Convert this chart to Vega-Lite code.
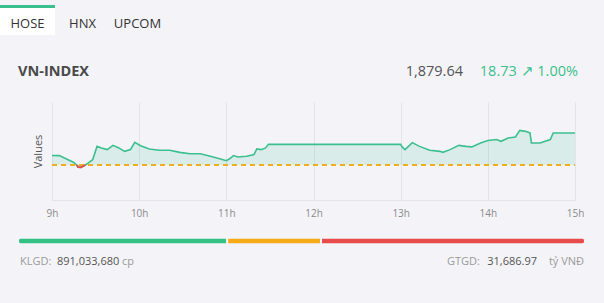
{
  "$schema": "https://vega.github.io/schema/vega-lite/v6.json",
  "background": "#f4f4f8",
  "padding": 0,
  "bounds": "flush",
  "spacing": 0,
  "config": {"view": {"stroke": null}, "font": "Open Sans", "text": {"font": "Open Sans"}},
  "datasets": {
    "tabs": [
      {"tab": "HOSE", "active": true},
      {"tab": "HNX", "active": false},
      {"tab": "UPCOM", "active": false}
    ],
    "header": [
      {"part": "name", "text": "VN-INDEX"},
      {"part": "quote", "price": "1,879.64", "change": "18.73 ↗ 1.00%"}
    ],
    "index": [
      {"t": "2024-01-01T09:00", "v": 1866.5},
      {"t": "2024-01-01T09:05", "v": 1866.4},
      {"t": "2024-01-01T09:10", "v": 1864.4},
      {"t": "2024-01-01T09:15", "v": 1862.4},
      {"t": "2024-01-01T09:17", "v": 1860.91},
      {"t": "2024-01-01T09:18", "v": 1859.6},
      {"t": "2024-01-01T09:20", "v": 1859.5},
      {"t": "2024-01-01T09:22", "v": 1860.5},
      {"t": "2024-01-01T09:23", "v": 1860.91},
      {"t": "2024-01-01T09:25", "v": 1862.1},
      {"t": "2024-01-01T09:28", "v": 1864.0},
      {"t": "2024-01-01T09:31", "v": 1871.8},
      {"t": "2024-01-01T09:34", "v": 1870.9},
      {"t": "2024-01-01T09:38", "v": 1869.9},
      {"t": "2024-01-01T09:42", "v": 1872.4},
      {"t": "2024-01-01T09:46", "v": 1870.9},
      {"t": "2024-01-01T09:50", "v": 1868.9},
      {"t": "2024-01-01T09:54", "v": 1869.9},
      {"t": "2024-01-01T09:57", "v": 1874.2},
      {"t": "2024-01-01T10:01", "v": 1872.2},
      {"t": "2024-01-01T10:07", "v": 1870.3},
      {"t": "2024-01-01T10:14", "v": 1869.5},
      {"t": "2024-01-01T10:21", "v": 1869.5},
      {"t": "2024-01-01T10:28", "v": 1868.3},
      {"t": "2024-01-01T10:35", "v": 1867.5},
      {"t": "2024-01-01T10:42", "v": 1867.5},
      {"t": "2024-01-01T10:49", "v": 1866.0},
      {"t": "2024-01-01T10:56", "v": 1864.4},
      {"t": "2024-01-01T11:00", "v": 1863.4},
      {"t": "2024-01-01T11:02", "v": 1864.4},
      {"t": "2024-01-01T11:05", "v": 1866.4},
      {"t": "2024-01-01T11:08", "v": 1865.6},
      {"t": "2024-01-01T11:14", "v": 1866.0},
      {"t": "2024-01-01T11:19", "v": 1867.0},
      {"t": "2024-01-01T11:21", "v": 1870.3},
      {"t": "2024-01-01T11:24", "v": 1869.9},
      {"t": "2024-01-01T11:27", "v": 1870.9},
      {"t": "2024-01-01T11:29", "v": 1873.0},
      {"t": "2024-01-01T13:00", "v": 1873.0},
      {"t": "2024-01-01T13:01", "v": 1871.5},
      {"t": "2024-01-01T13:03", "v": 1869.9},
      {"t": "2024-01-01T13:08", "v": 1874.0},
      {"t": "2024-01-01T13:13", "v": 1871.8},
      {"t": "2024-01-01T13:20", "v": 1869.5},
      {"t": "2024-01-01T13:27", "v": 1868.9},
      {"t": "2024-01-01T13:29", "v": 1868.3},
      {"t": "2024-01-01T13:34", "v": 1869.9},
      {"t": "2024-01-01T13:40", "v": 1872.4},
      {"t": "2024-01-01T13:45", "v": 1871.8},
      {"t": "2024-01-01T13:49", "v": 1871.5},
      {"t": "2024-01-01T13:55", "v": 1873.8},
      {"t": "2024-01-01T14:00", "v": 1875.3},
      {"t": "2024-01-01T14:06", "v": 1875.8},
      {"t": "2024-01-01T14:09", "v": 1874.8},
      {"t": "2024-01-01T14:14", "v": 1876.7},
      {"t": "2024-01-01T14:19", "v": 1877.3},
      {"t": "2024-01-01T14:22", "v": 1881.2},
      {"t": "2024-01-01T14:26", "v": 1880.6},
      {"t": "2024-01-01T14:29", "v": 1879.7},
      {"t": "2024-01-01T14:30", "v": 1873.8},
      {"t": "2024-01-01T14:36", "v": 1873.8},
      {"t": "2024-01-01T14:43", "v": 1875.8},
      {"t": "2024-01-01T14:45", "v": 1879.64},
      {"t": "2024-01-01T15:00", "v": 1879.64}
    ],
    "breadth": [
      {"row": "bar", "status": "up", "rank": 1, "n": 145},
      {"row": "bar", "status": "flat", "rank": 2, "n": 65},
      {"row": "bar", "status": "down", "rank": 3, "n": 183}
    ],
    "info": [
      {"side": "left", "label": "KLGD:", "num": "891,033,680", "unit": "cp"},
      {"side": "right", "label": "GTGD:", "num": "31,686.97", "unit": "tỷ VNĐ"}
    ]
  },
  "vconcat": [
    {
      "width": 604,
      "height": 35,
      "data": {"name": "tabs"},
      "encoding": {
        "x": {"field": "tab", "type": "nominal", "scale": {"domain": ["HOSE", "HNX", "UPCOM"], "range": [0, 165], "paddingInner": 0, "paddingOuter": 0}, "axis": null}
      },
      "layer": [
        {
          "transform": [{"filter": "datum.active"}],
          "mark": {"type": "bar", "color": "#ffffff"},
          "encoding": {
            "y": {"datum": 0, "type": "quantitative", "scale": {"domain": [0, 1]}, "axis": null},
            "y2": {"datum": 0.77}
          }
        },
        {
          "transform": [{"filter": "datum.active"}],
          "mark": {"type": "bar", "color": "#3cbf8e"},
          "encoding": {
            "y": {"datum": 0.77, "type": "quantitative"},
            "y2": {"datum": 0.86}
          }
        },
        {
          "mark": {"type": "text", "fontSize": 13, "color": "#333333", "dy": 1.5},
          "encoding": {
            "y": {"datum": 0.35, "type": "quantitative"},
            "text": {"field": "tab"}
          }
        }
      ]
    },
    {
      "width": 604,
      "height": 67,
      "data": {"name": "header"},
      "encoding": {
        "x": {"field": "part", "type": "nominal", "scale": {"type": "point", "domain": ["name", "quote"], "range": [18, 578], "padding": 0}, "axis": null}
      },
      "layer": [
        {
          "transform": [{"filter": "datum.part === 'name'"}],
          "mark": {"type": "text", "align": "left", "fontSize": 14.5, "fontWeight": "bold", "color": "#4a4a4a", "dy": 3.5},
          "encoding": {"text": {"field": "text"}}
        },
        {
          "transform": [{"filter": "datum.part === 'quote'"}],
          "mark": {"type": "text", "align": "right", "fontSize": 14.5, "color": "#555555", "dy": 3.5, "dx": -115},
          "encoding": {"text": {"field": "price"}}
        },
        {
          "transform": [{"filter": "datum.part === 'quote'"}],
          "mark": {"type": "text", "align": "right", "fontSize": 14.5, "color": "#3dbf8a", "dy": 3.5},
          "encoding": {"text": {"field": "change"}}
        }
      ]
    },
    {
      "width": 604,
      "height": 98,
      "data": {"name": "index"},
      "layer": [
        {
          "mark": {"type": "area", "color": "#3cbf8e", "opacity": 0.14},
          "encoding": {
            "x": {
              "field": "t", "type": "temporal",
              "scale": {"domain": [{"year": 2024, "month": 1, "date": 1, "hours": 9}, {"year": 2024, "month": 1, "date": 1, "hours": 15}], "range": [52, 575]},
              "axis": {
                "title": null,
                "values": [
                  {"year": 2024, "month": 1, "date": 1, "hours": 9},
                  {"year": 2024, "month": 1, "date": 1, "hours": 10},
                  {"year": 2024, "month": 1, "date": 1, "hours": 11},
                  {"year": 2024, "month": 1, "date": 1, "hours": 12},
                  {"year": 2024, "month": 1, "date": 1, "hours": 13},
                  {"year": 2024, "month": 1, "date": 1, "hours": 14},
                  {"year": 2024, "month": 1, "date": 1, "hours": 15}
                ],
                "labelExpr": "hours(datum.value) + 'h'",
                "grid": true,
                "gridColor": "#e3e4eb",
                "ticks": false,
                "domainColor": "#e3e4eb",
                "labelColor": "#8a8a8a",
                "labelFontSize": 10,
                "labelPadding": 8,
                "labelFlush": false,
                "labelFont": "Open Sans"
              }
            },
            "y": {
              "field": "v", "type": "quantitative",
              "scale": {"domain": [1840.4, 1897.8], "zero": false, "nice": false},
              "axis": {
                "title": "Values",
                "labels": false,
                "ticks": false,
                "domain": false,
                "grid": false,
                "titleX": 38,
                "titleY": 49,
                "titleAngle": -90,
                "titleAlign": "center",
                "titleBaseline": "middle",
                "titleFontSize": 11,
                "titleFontWeight": "normal",
                "titleColor": "#555555",
                "titleFont": "Open Sans"
              }
            },
            "y2": {"datum": 1860.91}
          }
        },
        {
          "transform": [{"filter": "datum.v <= 1860.91"}],
          "mark": {"type": "area", "color": "#e5484d", "opacity": 0.2},
          "encoding": {
            "x": {"field": "t", "type": "temporal"},
            "y": {"field": "v", "type": "quantitative"},
            "y2": {"datum": 1860.91}
          }
        },
        {
          "mark": {"type": "rule", "color": "#f0ae1c", "strokeDash": [5, 4], "strokeWidth": 1.2},
          "encoding": {
            "x": {"datum": {"year": 2024, "month": 1, "date": 1, "hours": 9}, "type": "temporal"},
            "x2": {"datum": {"year": 2024, "month": 1, "date": 1, "hours": 15}},
            "y": {"datum": 1860.91, "type": "quantitative"}
          }
        },
        {
          "mark": {"type": "line", "color": "#3cbf8e", "strokeWidth": 1.6},
          "encoding": {
            "x": {"field": "t", "type": "temporal"},
            "y": {"field": "v", "type": "quantitative"}
          }
        },
        {
          "transform": [{"filter": "datum.v <= 1860.91"}],
          "mark": {"type": "line", "color": "#e5484d", "strokeWidth": 1.8},
          "encoding": {
            "x": {"field": "t", "type": "temporal"},
            "y": {"field": "v", "type": "quantitative"}
          }
        }
      ]
    },
    {
      "width": 604,
      "height": 103,
      "layer": [
        {
          "data": {"name": "breadth"},
          "mark": {"type": "bar", "height": 7, "cornerRadius": 3, "stroke": "#f4f4f8", "strokeWidth": 2},
          "encoding": {
            "x": {"field": "n", "type": "quantitative", "stack": "zero", "scale": {"domain": [0, 393], "range": [18, 585], "nice": false}, "axis": null},
            "y": {"field": "row", "type": "nominal", "scale": {"type": "point", "domain": ["bar", "info"], "range": [41, 62], "padding": 0}, "axis": null},
            "color": {"field": "status", "type": "nominal", "scale": {"domain": ["up", "flat", "down"], "range": ["#34c184", "#f5ab17", "#e84b4c"]}, "legend": null},
            "order": {"field": "rank"}
          }
        },
        {
          "data": {"name": "info"},
          "transform": [{"filter": "datum.side === 'left'"}],
          "mark": {"type": "text", "align": "left", "fontSize": 11, "color": "#9a9a9a", "dx": 2},
          "encoding": {
            "x": {"datum": 0, "type": "quantitative"},
            "y": {"datum": "info", "type": "nominal"},
            "text": {"field": "label"}
          }
        },
        {
          "data": {"name": "info"},
          "transform": [{"filter": "datum.side === 'left'"}],
          "mark": {"type": "text", "align": "left", "fontSize": 11, "color": "#555555", "dx": 39},
          "encoding": {
            "x": {"datum": 0, "type": "quantitative"},
            "y": {"datum": "info", "type": "nominal"},
            "text": {"field": "num"}
          }
        },
        {
          "data": {"name": "info"},
          "transform": [{"filter": "datum.side === 'left'"}],
          "mark": {"type": "text", "align": "left", "fontSize": 11, "color": "#9a9a9a", "dx": 104},
          "encoding": {
            "x": {"datum": 0, "type": "quantitative"},
            "y": {"datum": "info", "type": "nominal"},
            "text": {"field": "unit"}
          }
        },
        {
          "data": {"name": "info"},
          "transform": [{"filter": "datum.side === 'right'"}],
          "mark": {"type": "text", "align": "right", "fontSize": 11, "color": "#9a9a9a", "dx": -1},
          "encoding": {
            "x": {"datum": 393, "type": "quantitative"},
            "y": {"datum": "info", "type": "nominal"},
            "text": {"field": "unit"}
          }
        },
        {
          "data": {"name": "info"},
          "transform": [{"filter": "datum.side === 'right'"}],
          "mark": {"type": "text", "align": "right", "fontSize": 11, "color": "#555555", "dx": -48},
          "encoding": {
            "x": {"datum": 393, "type": "quantitative"},
            "y": {"datum": "info", "type": "nominal"},
            "text": {"field": "num"}
          }
        },
        {
          "data": {"name": "info"},
          "transform": [{"filter": "datum.side === 'right'"}],
          "mark": {"type": "text", "align": "right", "fontSize": 11, "color": "#9a9a9a", "dx": -105},
          "encoding": {
            "x": {"datum": 393, "type": "quantitative"},
            "y": {"datum": "info", "type": "nominal"},
            "text": {"field": "label"}
          }
        }
      ]
    }
  ]
}
